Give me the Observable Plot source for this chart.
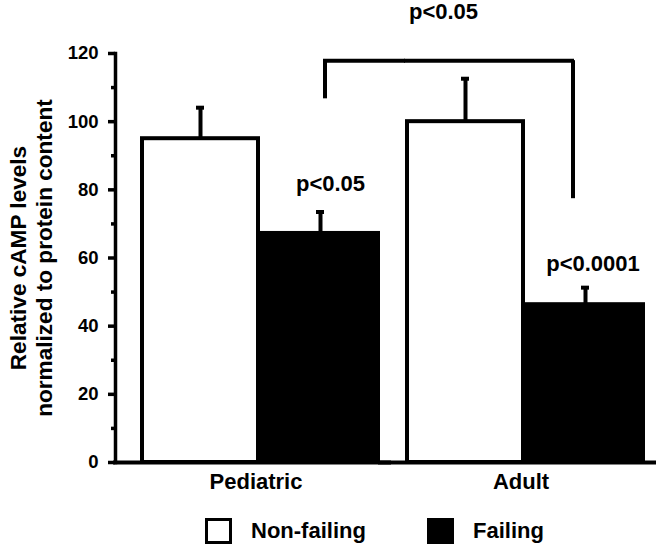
<!DOCTYPE html>
<html>
<head>
<meta charset="utf-8">
<script src="https://cdn.jsdelivr.net/npm/d3@7"></script>
<script src="https://cdn.jsdelivr.net/npm/@observablehq/plot@0.6"></script>
<style>
  html, body { margin: 0; padding: 0; background: white; }
  #chart { width: 660px; }
  #legend { position: relative; width: 660px; height: 42px; font-family: 'Liberation Sans', Arial, sans-serif; font-weight: bold; font-size: 22px; color: black; }
  #legend .sw { position: absolute; top: 13px; width: 27px; height: 26px; box-sizing: border-box; border: 3.5px solid black; }
  #legend .lab { position: absolute; top: 12px; line-height: 28px; white-space: nowrap; }
</style>
</head>
<body>
<div id="chart"></div>
<div id="legend"></div>
<script>
// ---- data ----
const groups = ["Pediatric", "Adult"];
const seriesNames = ["Non-failing", "Failing"];
const seriesColors = ["white", "black"];
const nonFailingMean = [95.0, 100.0];
const nonFailingSem = [9.1, 12.6];
const failingMean = [67.2, 46.3];
const failingSem = [6.3, 5.0];
const yTicks = [0, 20, 40, 60, 80, 100, 120];
const yMinorTicks = [10, 30, 50, 70, 90, 110];
const yTitle = "Relative cAMP levels\nnormalized to protein content";
// significance annotations
const barPLabels = ["p<0.05", "p<0.0001"];
const barPLabelY = [79.7, 56.3];
const bracketLabel = "p<0.05";
const bracketLabelY = 130;
const bracketTop = 117.9;
const bracketLegLow = [106.7, 77.4];

// ---- tables built from the arrays ----
const rows = groups.flatMap((g, i) => [
  {group: g, series: seriesNames[0], mean: nonFailingMean[i], upper: nonFailingMean[i] + nonFailingSem[i]},
  {group: g, series: seriesNames[1], mean: failingMean[i], upper: failingMean[i] + failingSem[i]}
]);
const legs = groups.map((g, i) => ({group: g, series: seriesNames[1], low: bracketLegLow[i], high: bracketTop}));
const pRows = groups.map((g, i) => ({group: g, series: seriesNames[1], y: barPLabelY[i], text: barPLabels[i]}));
const topRow = [{group: groups[1], series: seriesNames[0], y: bracketLabelY, text: bracketLabel}];

const plot = Plot.plot({
  width: 660,
  height: 505,
  marginLeft: 114,
  marginRight: 3,
  marginTop: 53,
  marginBottom: 43,
  style: {fontFamily: "'Liberation Sans', Arial, sans-serif", fontWeight: "bold", color: "black", background: "white", overflow: "visible"},
  fx: {domain: groups, paddingInner: 0.0902, paddingOuter: 0.0658, align: 0.686, label: null},
  x: {domain: seriesNames, padding: 0, axis: null},
  y: {domain: [0, 120]},
  color: {domain: seriesNames, range: seriesColors},
  marks: [
    // bars
    Plot.barY(rows, {fx: "group", x: "series", y: "mean", fill: "series", stroke: "black", strokeWidth: 4, insetLeft: 2, insetRight: 2}),
    // error bars
    Plot.ruleX(rows, {fx: "group", x: "series", y1: "mean", y2: "upper", stroke: "black", strokeWidth: 4}),
    Plot.tickY(rows, {fx: "group", x: "series", y: "upper", stroke: "black", strokeWidth: 4, insetLeft: 56, insetRight: 56}),
    // bracket
    Plot.ruleX([legs[0]], {fx: "group", x: "series", y1: "low", y2: "high", stroke: "black", strokeWidth: 4, dx: 4.5}),
    Plot.ruleX([legs[1]], {fx: "group", x: "series", y1: "low", y2: "high", stroke: "black", strokeWidth: 4, dx: -12.5}),
    Plot.ruleY([legs[0]], {fx: "group", x1: "series", x2: "series", y: "high", stroke: "black", strokeWidth: 4, insetLeft: 63, insetRight: -25}),
    Plot.ruleY([legs[1]], {fx: "group", y: "high", stroke: "black", strokeWidth: 4, insetRight: 71}),
    // p-value labels
    Plot.text([pRows[0]], {fx: "group", x: "series", y: "y", text: "text", lineAnchor: "bottom", fontSize: 22, dx: 10, fill: "black"}),
    Plot.text([pRows[1]], {fx: "group", x: "series", y: "y", text: "text", lineAnchor: "bottom", fontSize: 22, dx: 7.5, fill: "black"}),
    Plot.text(topRow, {fx: "group", x: "series", y: "y", text: "text", lineAnchor: "bottom", fontSize: 22, dx: -22, fill: "black"}),
    // baseline
    Plot.ruleY([0], {stroke: "black", strokeWidth: 4, insetLeft: -26, insetRight: -11}),
    // y axis
    Plot.frame({anchor: "left", facetAnchor: "left", dx: -24, stroke: "black", strokeWidth: 3.5}),
    Plot.axisY(yTicks, {facetAnchor: "left", dx: -24, tickSize: 7, tickPadding: 10, fontSize: 18.5, strokeWidth: 3.5, label: null}),
    Plot.axisY(yMinorTicks, {facetAnchor: "left", dx: -24, tickSize: 4, tickFormat: () => "", strokeWidth: 3.5, label: null}),
    Plot.text([yTitle], {facetAnchor: "left", frameAnchor: "left", textAnchor: "middle", lineAnchor: "middle", rotate: -90, dx: -109, fontSize: 22.6, lineHeight: 1.17, fill: "black"}),
    // category axis
    Plot.axisFx({anchor: "bottom", tickSize: 0, tickPadding: 11, fontSize: 22, dx: -4, label: null})
  ]
});
document.getElementById("chart").appendChild(plot);

// legend below the chart
const legend = d3.select("#legend");
const swLeft = [205, 427];
const labLeft = [251, 473];
seriesNames.forEach((s, i) => {
  legend.append("div").attr("class", "sw").style("left", swLeft[i] + "px").style("background", seriesColors[i]);
  legend.append("div").attr("class", "lab").style("left", labLeft[i] + "px").text(s);
});
</script>
</body>
</html>
